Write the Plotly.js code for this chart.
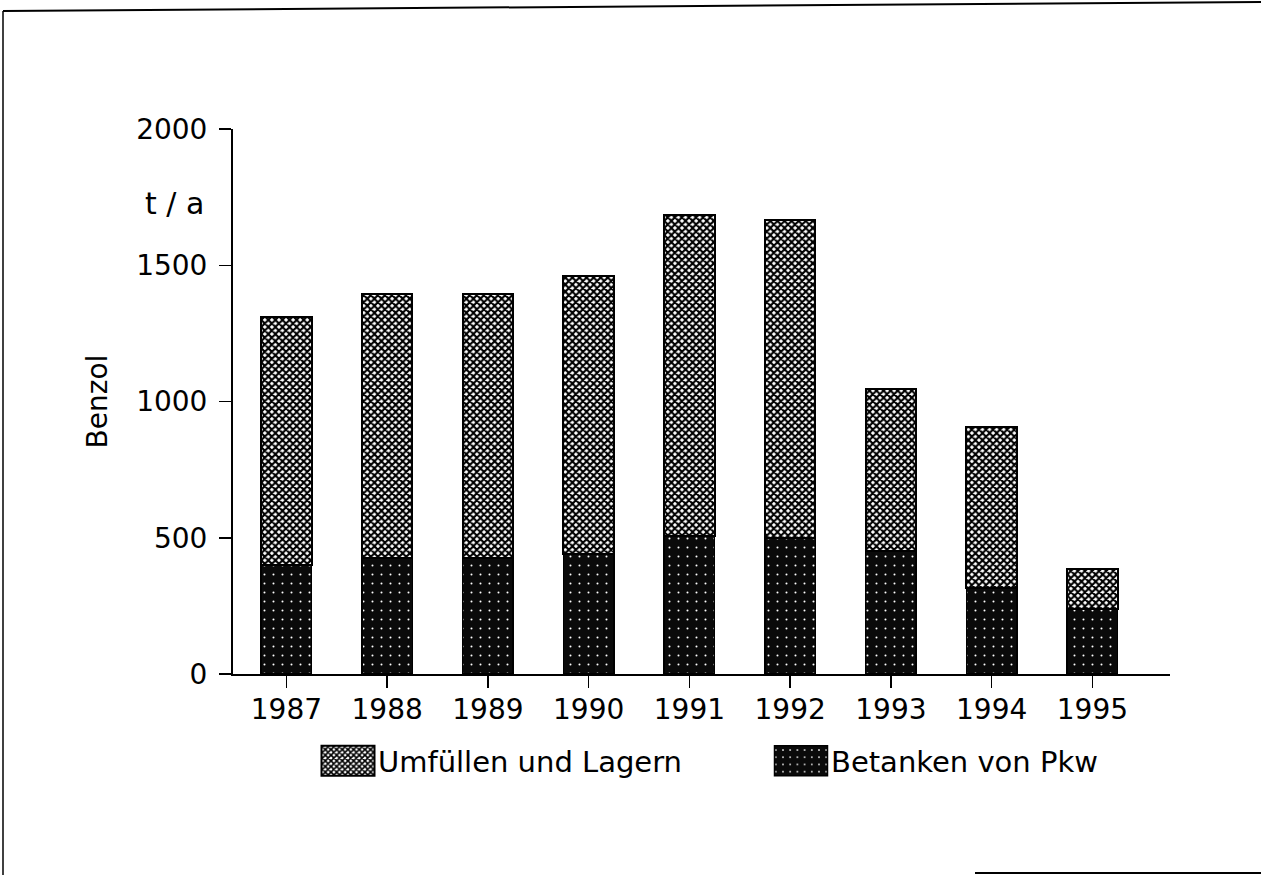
<!DOCTYPE html>
<html>
<head>
<meta charset="utf-8">
<script src="https://cdn.plot.ly/plotly-3.0.1.min.js"></script>
<style>html,body{margin:0;padding:0;background:#fff;}#chart{width:1261px;height:875px;}</style>
</head>
<body>
<div id="chart"></div>
<script>
const years = ['1987','1988','1989','1990','1991','1992','1993','1994','1995'];
const betanken = [400, 425, 425, 440, 505, 500, 450, 315, 240];
const umfuellen = [910, 970, 970, 1020, 1180, 1165, 595, 590, 145];
const yTicks = [0, 500, 1000, 1500, 2000];
const nameBetanken = 'Betanken von Pkw';
const nameUmfuellen = 'Umfüllen und Lagern';

const FONT = 'DejaVu Sans, Liberation Sans, Arial, sans-serif';

const traces = [
  {
    type: 'bar', x: years, y: betanken, name: nameBetanken,
    marker: {
      color: '#0a0a0a',
      line: {color: '#000', width: 1.5},
      pattern: {shape: '.', fgcolor: '#ffffff', bgcolor: '#0a0a0a', size: 9, solidity: 0.04, fillmode: 'replace'}
    },
    hoverinfo: 'skip'
  },
  {
    type: 'bar', x: years, y: umfuellen, name: nameUmfuellen,
    marker: {
      color: '#111',
      line: {color: '#000', width: 2},
      pattern: {shape: 'x', fgcolor: '#000000', bgcolor: '#ffffff', size: 5, solidity: 0.65, fillmode: 'replace'}
    },
    hoverinfo: 'skip'
  }
];

const W = 1261, H = 875, L = 233, R = 91, T = 129, B = 201;
const pw = W - L - R, ph = H - T - B;
const px = x => (x - L) / pw;
const py = y => (H - B - y) / ph;

const layout = {
  width: W, height: H,
  margin: {l: L, r: R, t: T, b: B},
  paper_bgcolor: '#fff', plot_bgcolor: '#fff',
  barmode: 'stack',
  bargap: 0.5,
  font: {family: FONT, size: 28, color: '#000'},
  showlegend: true,
  legend: {
    orientation: 'h', traceorder: 'reversed',
    x: px(308), y: py(761), xanchor: 'left', yanchor: 'middle',
    itemwidth: 60,
    font: {family: FONT, size: 29, color: '#000'},
    entrywidth: 378, entrywidthmode: 'pixels'
  },
  xaxis: {
    type: 'category', range: [-0.53, 8.77],
    showline: true, linecolor: '#000', linewidth: 2,
    ticks: 'outside', ticklen: 12, tickwidth: 1.5, tickcolor: '#000',
    ticklabelstandoff: -3,
    tickfont: {family: FONT, size: 28, color: '#000'},
    showgrid: false, zeroline: false, fixedrange: true
  },
  yaxis: {
    range: [0, 2000], tickvals: yTicks, ticktext: yTicks.map(String),
    showline: true, linecolor: '#000', linewidth: 2,
    ticks: 'outside', ticklen: 12, tickwidth: 1.5, tickcolor: '#000',
    ticklabelstandoff: 6,
    tickfont: {family: FONT, size: 28, color: '#000'},
    showgrid: false, zeroline: false, fixedrange: true,
    title: {text: 'Benzol', font: {family: FONT, size: 28, color: '#000'}, standoff: 20}
  },
  annotations: [
    {text: 't / a', xref: 'paper', yref: 'paper', x: px(174), y: py(203), xanchor: 'center', yanchor: 'middle', showarrow: false, font: {family: FONT, size: 30, color: '#000'}}
  ],
  shapes: [
    {type: 'line', xref: 'paper', yref: 'paper', x0: px(3), y0: py(11), x1: px(1261), y1: py(2), line: {color: '#000', width: 2}},
    {type: 'line', xref: 'paper', yref: 'paper', x0: px(3), y0: py(11), x1: px(3), y1: py(875), line: {color: '#000', width: 1.5}},
    {type: 'line', xref: 'paper', yref: 'paper', x0: px(975), y0: py(873), x1: px(1261), y1: py(873), line: {color: '#000', width: 2}}
  ]
};

Plotly.newPlot('chart', traces, layout, {staticPlot: true, displayModeBar: false}).then(gd => {
  // enlarge the legend swatches to match the wide rectangular keys of the original
  gd.querySelectorAll('.legend .legendpoints path').forEach(p => {
    p.setAttribute('d', 'M26.5,15H-26.5V-15H26.5Z');
    p.setAttribute('transform', 'translate(40,0)');
  });
});
</script>
</body>
</html>
